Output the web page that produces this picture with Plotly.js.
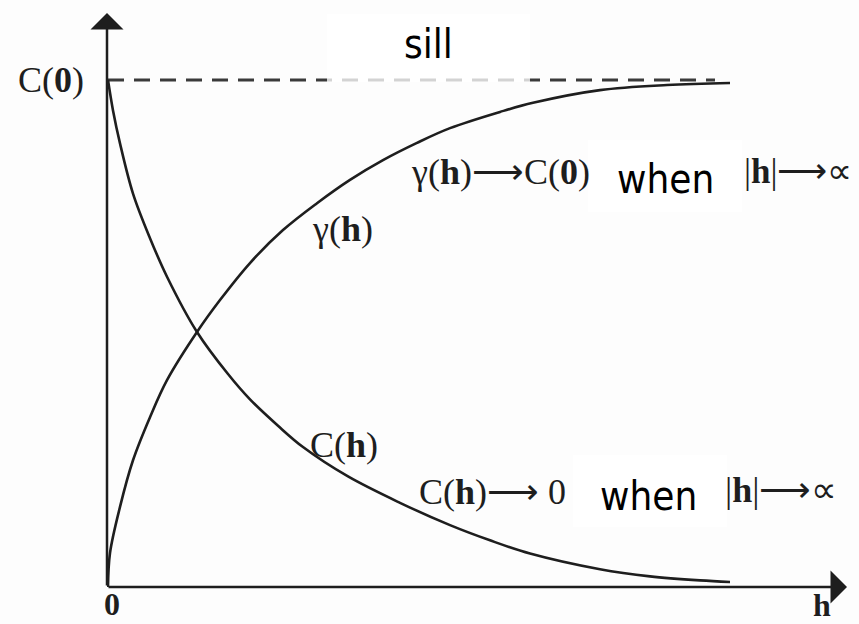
<!DOCTYPE html>
<html>
<head>
<meta charset="utf-8">
<script src="https://cdn.plot.ly/plotly-3.0.1.min.js"></script>
<style>
  html, body { margin: 0; padding: 0; background: #fdfdfd; }
  #chart { width: 859px; height: 624px; }
</style>
</head>
<body>
<div id="chart"></div>
<script>
// Lag distance h and the two curves: the semivariogram γ(h) rising to the sill C(0),
// and the covariance C(h) decaying towards 0.
const lagGamma = [0, 0.02, 0.12, 0.25, 0.42, 0.59, 0.89, 1.12, 1.42, 1.75, 2.09, 2.42, 2.75, 3.09, 3.42, 3.92, 4.25, 4.92, 5.59, 6.22];
const gammaVals = [0, 0.067, 0.158, 0.250, 0.335, 0.408, 0.503, 0.566, 0.639, 0.704, 0.757, 0.803, 0.842, 0.876, 0.905, 0.937, 0.955, 0.980, 0.990, 0.994];

const lagCov = [0, 0.05, 0.12, 0.25, 0.42, 0.59, 0.89, 1.2, 1.42, 1.7, 1.95, 2.4, 2.92, 3.42, 3.82, 4.22, 4.92, 5.42, 5.92, 6.22];
const covVals = [1.0, 0.94, 0.875, 0.776, 0.688, 0.612, 0.503, 0.420, 0.370, 0.318, 0.276, 0.218, 0.166, 0.122, 0.092, 0.066, 0.035, 0.021, 0.013, 0.010];

// Sill level C(0)
const sillLag = [0, 6.07];
const sillVals = [1, 1];

const INK = '#1e1e1e';
const SERIF = 'Liberation Serif, Times New Roman, serif';
const SANS = 'DejaVu Sans Condensed, DejaVu Sans, sans-serif';

const traces = [
  { x: sillLag, y: sillVals, mode: 'lines', line: { color: '#3a3a3a', width: 3, dash: '16px,10px' }, hoverinfo: 'skip' },
  { x: lagGamma, y: gammaVals, mode: 'lines', line: { color: INK, width: 2.6, shape: 'spline', smoothing: 1 }, hoverinfo: 'skip' },
  { x: lagCov, y: covVals, mode: 'lines', line: { color: INK, width: 2.6, shape: 'spline', smoothing: 1 }, hoverinfo: 'skip' }
];

function serifLabel(text, x, y, ref, size) {
  return { text: text, x: x, y: y, xref: ref || 'x', yref: ref ? 'paper' : 'y', showarrow: false,
           font: { family: SERIF, size: size || 36, color: INK }, xanchor: 'center', yanchor: 'middle' };
}
function sansLabel(text, x, y) {
  return { text: text, x: x, y: y, xref: 'x', yref: 'y', showarrow: false,
           font: { family: SANS, size: 40, color: '#000' }, xanchor: 'center', yanchor: 'middle' };
}

const annotations = [
  // axes with arrow heads
  { x: 7.39, y: 0, ax: -0.01, ay: 0, xref: 'x', yref: 'y', axref: 'x', ayref: 'y', text: '',
    showarrow: true, arrowhead: 1, arrowsize: 2.2, arrowwidth: 2.5, arrowcolor: INK },
  { x: -0.01, y: 1.132, ax: -0.01, ay: 0, xref: 'x', yref: 'y', axref: 'x', ayref: 'y', text: '',
    showarrow: true, arrowhead: 1, arrowsize: 2.2, arrowwidth: 2.5, arrowcolor: INK },
  serifLabel('C(<b>0</b>)', -0.0757, 0.8833, 'paper'),
  serifLabel('<b>0</b>', 0.0068, -0.030, 'paper', 32),
  serifLabel('<b>h</b>', 0.966, -0.032, 'paper', 32),
  serifLabel('γ(<b>h</b>)', 2.34, 0.706),
  serifLabel('C(<b>h</b>)', 2.36, 0.280),
  serifLabel('γ(<b>h</b>)⟶C(<b>0</b>)', 3.92, 0.819),
  serifLabel('C(<b>h</b>)⟶ 0', 3.84, 0.187),
  serifLabel('|<b>h</b>|⟶∝', 6.90, 0.819, null, 35),
  serifLabel('|<b>h</b>|⟶∝', 6.73, 0.191),
  sansLabel('sill', 3.20, 1.07),
  sansLabel('when', 5.57, 0.805),
  sansLabel('when', 5.40, 0.18)
];

// white panels behind the plain-text words
const shapes = [
  { type: 'rect', xref: 'x', yref: 'y', x0: 2.19, x1: 4.22, y0: 0.996, y1: 1.13,
    fillcolor: 'rgba(255,255,255,0.78)', line: { width: 0 }, layer: 'above' },
  { type: 'rect', xref: 'x', yref: 'y', x0: 4.80, x1: 6.34, y0: 0.739, y1: 0.881,
    fillcolor: '#ffffff', line: { width: 0 }, layer: 'below' },
  { type: 'rect', xref: 'x', yref: 'y', x0: 4.65, x1: 6.19, y0: 0.118, y1: 0.260,
    fillcolor: '#ffffff', line: { width: 0 }, layer: 'below' }
];

const hidden = { visible: true, showline: false, showgrid: false, zeroline: false, showticklabels: false, ticks: '', fixedrange: true };

const layout = {
  width: 859, height: 624,
  margin: { l: 107, r: 12, t: 13, b: 37, pad: 0 },
  paper_bgcolor: '#fdfdfd', plot_bgcolor: 'rgba(0,0,0,0)',
  showlegend: false,
  xaxis: Object.assign({ range: [-0.01, 7.39] }, hidden),
  yaxis: Object.assign({ range: [0, 1.1321] }, hidden),
  annotations: annotations,
  shapes: shapes
};

Plotly.newPlot('chart', traces, layout, { displayModeBar: false, staticPlot: true });
</script>
</body>
</html>
